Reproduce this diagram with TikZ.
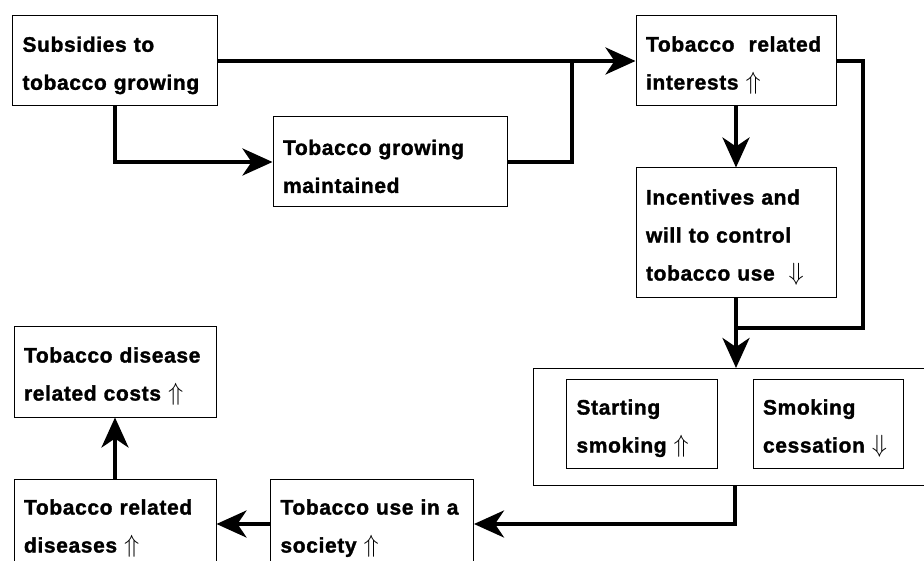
\documentclass[tikz,border=0pt]{standalone}
\usepackage{fontspec}
\setmainfont{Liberation Sans}[LetterSpace=3, BoldFeatures={FakeBold=1.5}]
\usepackage{tikz}
\usetikzlibrary{arrows.meta,positioning}
\newcommand{\incr}{{\fontsize{26}{38}\selectfont$\Uparrow$}}
\newcommand{\decr}{{\fontsize{26}{38}\selectfont$\Downarrow$}}
\tikzstyle{box} = [rectangle, draw=black, line width=1pt, inner xsep=10pt, inner ysep=0pt, align=left, font=\fontsize{21}{38}\selectfont\bfseries, execute at begin node={\rule{0pt}{24pt}}]
\tikzstyle{arrow} = [line width=4pt, -{Stealth[length=30pt, width=27pt, inset=9pt]}]
\tikzstyle{link} = [line width=4pt]

\begin{document}
\begin{tikzpicture}[x=1pt, y=-1pt, node distance=120pt]
\useasboundingbox (0,0) rectangle (924,561);
\clip (0,0) rectangle (924,561);

% Nodes
\node (subs) [box, minimum width=205pt, minimum height=90pt, text width=185pt] at (115,61) {Subsidies to\\tobacco growing};
\node (grow) [box, right of=subs, xshift=155pt, yshift=-101pt, minimum width=234pt, minimum height=90pt, text width=214pt] {Tobacco growing\\maintained};
\node (inter) [box, right of=subs, xshift=501pt, minimum width=200pt, minimum height=90pt, text width=180pt] {Tobacco~ related\\interests \incr};
\node (incent) [box, below of=inter, yshift=-52pt, minimum width=200pt, minimum height=130pt, text width=180pt] {Incentives and\\will to control\\tobacco use~ \decr};
\node (smoke) [box, below of=incent, xshift=-1pt, yshift=-74pt, minimum width=404pt, minimum height=117pt] {};
\node (start) [box, left of=smoke, xshift=27pt, yshift=3pt, minimum width=151pt, minimum height=89pt, text width=131pt] {Starting\\smoking \incr};
\node (cess) [box, right of=smoke, xshift=-27pt, yshift=3pt, minimum width=150pt, minimum height=89pt, text width=130pt] {Smoking\\cessation \decr};
\node (costs) [box, below of=subs, yshift=-191pt, minimum width=202pt, minimum height=90pt, text width=182pt] {Tobacco disease\\related costs \incr};
\node (dis) [box, below of=costs, yshift=-32pt, minimum width=202pt, minimum height=90pt, text width=182pt] {Tobacco related\\diseases \incr};
\node (use) [box, right of=dis, xshift=137pt, minimum width=203pt, minimum height=90pt, text width=183pt] {Tobacco use in a\\society \incr};

% Junctions
\coordinate (jgrow) at (572,61);
\coordinate (jinter) at (736,328);

% Arrows
\draw [arrow] (subs.east) -- (subs.east -| inter.west);
\draw [arrow] (subs.south) |- (grow.west);
\draw [link] (grow.east) -| (jgrow);
\draw [arrow] (inter) -- (incent);
\draw [link] (inter.east) -- ++(26,0) |- (jinter);
\draw [arrow] (incent.south) -- (incent.south |- smoke.north);
\draw [arrow] (smoke.south) |- (use.east);
\draw [arrow] (use) -- (dis);
\draw [arrow] (dis) -- (costs);

\end{tikzpicture}
\end{document}
